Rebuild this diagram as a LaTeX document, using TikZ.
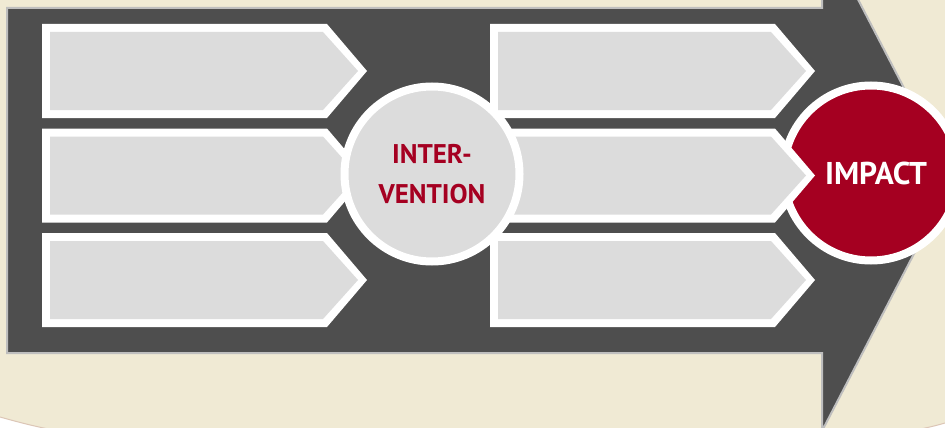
\documentclass[tikz,border=0pt]{standalone}
\usepackage{fontspec}
\setmainfont{PT Sans}
\definecolor{cream}{HTML}{F0EAD4}
\definecolor{edgebrown}{HTML}{DCC6B6}
\definecolor{darkbody}{HTML}{4E4E4E}
\definecolor{bodyedge}{HTML}{BEBEBE}
\definecolor{boxgray}{HTML}{DCDCDC}
\definecolor{impactred}{HTML}{A50021}
\tikzset{
  chev/.pic={
    \fill[white] (0,0) -- (285,0) -- (325,47) -- (285,94) -- (0,94) -- cycle;
    \fill[boxgray] (8,8) -- (281,8) -- (316,47) -- (281,86) -- (8,86) -- cycle;
  },
  ring/.style={circle, draw=white, line width=8pt, minimum size=175pt, inner sep=0pt, align=center, font=\bfseries},
}
\begin{document}
\begin{tikzpicture}[x=1pt,y=-1pt]
\useasboundingbox (0,0) rectangle (945,428);
\begin{scope}
\clip (0,0) rectangle (945,428);
\fill[white] (0,0) rectangle (945,428);
\fill[cream] (0,0) -- (945,0) -- (945,423)
  .. controls (928,428) and (905,433) .. (870,435) -- (90,435)
  .. controls (55,432) and (25,424) .. (0,417) -- cycle;
\draw[edgebrown, line width=1pt] (945,423) .. controls (928,428) and (905,433) .. (870,435);
\draw[edgebrown, line width=1pt] (90,435) .. controls (55,432) and (25,424) .. (0,417);
% big arrow
\path[fill=darkbody, draw=bodyedge, line width=2pt, line join=miter]
  (7,8) -- (822,8) -- (822,-70) -- (952,180.5) -- (822,431) -- (822,353) -- (7,353) -- cycle;
% impact circle (under the middle right chevron)
\node[ring, fill=impactred, text=white, font=\bfseries\fontsize{31.5}{36}\selectfont] (impact) at (871,173) {\hspace*{10pt}IMPACT};
% chevrons
\pic at (42,24) {chev};
\pic at (42,128.5) {chev};
\pic at (42,233) {chev};
\pic at (490,24) {chev};
\pic at (490,128.5) {chev};
\pic at (490,233) {chev};
% intervention circle (over the chevrons)
\node[ring, fill=boxgray, text=impactred, font=\bfseries\fontsize{27}{40}\selectfont] (intervention) at (432,174) {INTER-\\VENTION};
\end{scope}
\end{tikzpicture}
\end{document}
